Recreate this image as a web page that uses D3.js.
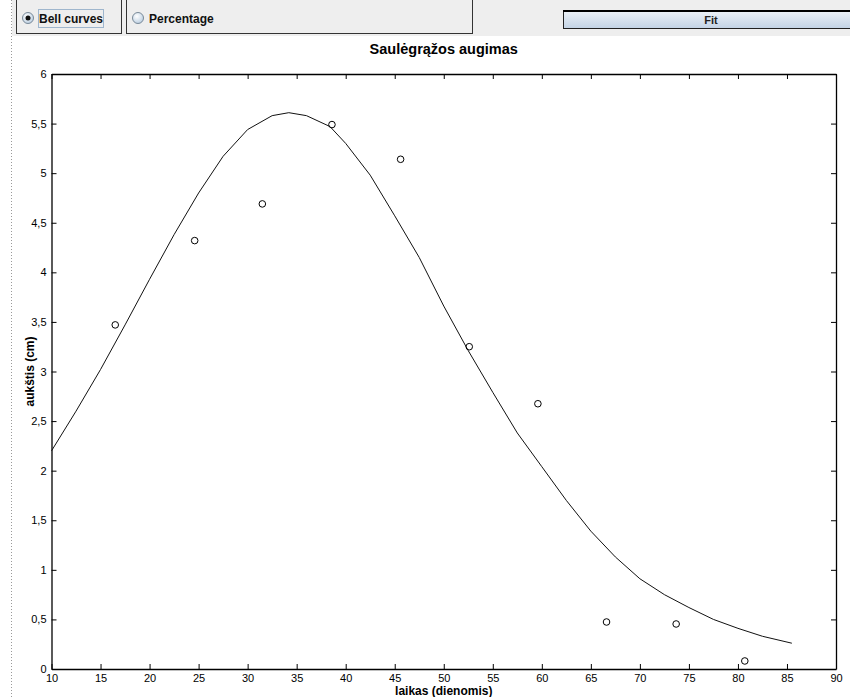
<!DOCTYPE html>
<html>
<head>
<meta charset="utf-8">
<script src="https://cdn.jsdelivr.net/npm/d3@7"></script>
<style>
  html, body { margin: 0; padding: 0; background: #ffffff; }
  svg { display: block; }
  text { font-family: "Liberation Sans", Arial, sans-serif; }
</style>
</head>
<body>
<svg id="chart" width="850" height="697"></svg>
<script>
// ---- data ----
const title = "Saulėgrąžos augimas";
const xLabel = "laikas (dienomis)";
const yLabel = "aukštis (cm)";
const xTicks = [10, 15, 20, 25, 30, 35, 40, 45, 50, 55, 60, 65, 70, 75, 80, 85, 90];
const yTicks = [0, 0.5, 1, 1.5, 2, 2.5, 3, 3.5, 4, 4.5, 5, 5.5, 6];
const pointX = [16.5, 24.6, 31.5, 38.6, 45.6, 52.6, 59.6, 66.6, 73.7, 80.7];
const pointY = [3.47, 4.32, 4.69, 5.49, 5.14, 3.25, 2.675, 0.474, 0.454, 0.081];
const curveX = [10, 12.5, 15, 17.5, 20, 22.5, 25, 27.5, 30, 32.5, 34.2, 36, 38.4, 40, 42.5, 45, 47.5, 50, 52.5, 55, 57.5, 60, 62.5, 65, 67.5, 70, 72.5, 75, 77.5, 80, 82.5, 85.5];
const curveY = [2.2, 2.6, 3.02, 3.47, 3.93, 4.38, 4.80, 5.17, 5.44, 5.58, 5.61, 5.58, 5.47, 5.30, 4.98, 4.57, 4.15, 3.66, 3.21, 2.79, 2.38, 2.04, 1.70, 1.39, 1.13, 0.91, 0.75, 0.62, 0.50, 0.41, 0.33, 0.26];
const radioLabels = ["Bell curves", "Percentage"];
const buttonLabel = "Fit";

const svg = d3.select("#chart");

// ---- GUI strip ----
const defs = svg.append("defs");
const rg = defs.append("radialGradient").attr("id", "radioGrad").attr("cx", "40%").attr("cy", "35%").attr("r", "70%");
rg.append("stop").attr("offset", "0%").attr("stop-color", "#ffffff");
rg.append("stop").attr("offset", "100%").attr("stop-color", "#b9cde0");
const bg = defs.append("linearGradient").attr("id", "btnGrad").attr("x1", 0).attr("y1", 0).attr("x2", 0).attr("y2", 1);
bg.append("stop").attr("offset", "0%").attr("stop-color", "#eef3f8");
bg.append("stop").attr("offset", "100%").attr("stop-color", "#c3d3e5");

svg.append("rect").attr("x", 12).attr("y", 0).attr("width", 838).attr("height", 36).attr("fill", "#eeeeee");
svg.append("line").attr("x1", 11.5).attr("x2", 11.5).attr("y1", 0).attr("y2", 697)
  .attr("stroke", "#9a9a9a").attr("stroke-dasharray", "1,2");

const boxes = [{x0: 16.5, x1: 121.5}, {x0: 126.5, x1: 472.5}];
boxes.forEach((b, i) => {
  svg.append("rect").attr("x", b.x0).attr("y", -5).attr("width", b.x1 - b.x0).attr("height", 38.5)
    .attr("fill", "#eeeeee").attr("stroke", "#333").attr("stroke-width", 1);
  const cx = b.x0 + 11.5;
  svg.append("circle").attr("cx", cx).attr("cy", 18).attr("r", 5.5)
    .attr("fill", "url(#radioGrad)").attr("stroke", "#7a8a99").attr("stroke-width", 1);
  if (i === 0) {
    svg.append("circle").attr("cx", cx).attr("cy", 18).attr("r", 2.5).attr("fill", "#111");
    svg.append("rect").attr("x", 38.5).attr("y", 9.5).attr("width", 65).attr("height", 18)
      .attr("fill", "none").attr("stroke", "#9fb6cd");
  }
  svg.append("text").attr("x", cx + 11).attr("y", 23).attr("font-size", 12).attr("font-weight", "bold")
    .attr("fill", "#111").text(radioLabels[i]);
});
svg.append("rect").attr("x", 563.5).attr("y", 10.5).attr("width", 290).attr("height", 18)
  .attr("fill", "url(#btnGrad)").attr("stroke", "#222").attr("stroke-width", 1);
svg.append("line").attr("x1", 563).attr("x2", 850).attr("y1", 11).attr("y2", 11).attr("stroke", "#000").attr("stroke-width", 2);
svg.append("text").attr("x", 711).attr("y", 24).attr("text-anchor", "middle").attr("font-size", 11)
  .attr("font-weight", "bold").attr("fill", "#222").text(buttonLabel);

// ---- chart ----
const x = d3.scaleLinear().domain([10, 90]).range([51.5, 836]);
const y = d3.scaleLinear().domain([0, 6]).range([669, 74]);
const fmt = d => String(d).replace(".", ",");

const gx = svg.append("g").attr("transform", `translate(0,${y(0)})`)
  .call(d3.axisBottom(x).tickValues(xTicks).tickSizeInner(-5).tickSizeOuter(0).tickPadding(5).tickFormat(d3.format("d")));
const gxt = svg.append("g").attr("transform", `translate(0,${y(6)})`)
  .call(d3.axisTop(x).tickValues(xTicks).tickSizeInner(-5).tickSizeOuter(0).tickFormat(""));
const gy = svg.append("g").attr("transform", `translate(${x(10)},0)`)
  .call(d3.axisLeft(y).tickValues(yTicks).tickSizeInner(-5).tickSizeOuter(0).tickPadding(5).tickFormat(fmt));
const gyr = svg.append("g").attr("transform", `translate(${x(90)},0)`)
  .call(d3.axisRight(y).tickValues(yTicks).tickSizeInner(-5).tickSizeOuter(0).tickFormat(""));
[gx, gxt, gy, gyr].forEach(g => {
  g.selectAll("path.domain").attr("stroke", "#000").attr("stroke-width", 1.3);
  g.selectAll(".tick line").attr("stroke", "#000");
  g.selectAll(".tick text").attr("font-family", "'Liberation Sans', Arial, sans-serif")
    .attr("font-size", 11).attr("fill", "#000");
});

const curve = curveX.map((v, i) => [v, curveY[i]]);
svg.append("path").datum(curve)
  .attr("d", d3.line().x(d => x(d[0])).y(d => y(d[1])))
  .attr("fill", "none").attr("stroke", "#111").attr("stroke-width", 1);

svg.append("g").selectAll("circle").data(pointX.map((v, i) => [v, pointY[i]]))
  .join("circle").attr("cx", d => x(d[0])).attr("cy", d => y(d[1])).attr("r", 3.3)
  .attr("fill", "none").attr("stroke", "#000").attr("stroke-width", 1);

svg.append("text").attr("x", (x(10) + x(90)) / 2).attr("y", 54).attr("text-anchor", "middle")
  .attr("font-size", 14.5).attr("font-weight", "bold").attr("fill", "#000").text(title);
svg.append("text").attr("x", (x(10) + x(90)) / 2).attr("y", 695).attr("text-anchor", "middle")
  .attr("font-size", 12).attr("font-weight", "bold").attr("fill", "#000").text(xLabel);
svg.append("text").attr("transform", `translate(34,${(y(0) + y(6)) / 2}) rotate(-90)`).attr("text-anchor", "middle")
  .attr("font-size", 12).attr("font-weight", "bold").attr("fill", "#000").text(yLabel);
</script>
</body>
</html>
